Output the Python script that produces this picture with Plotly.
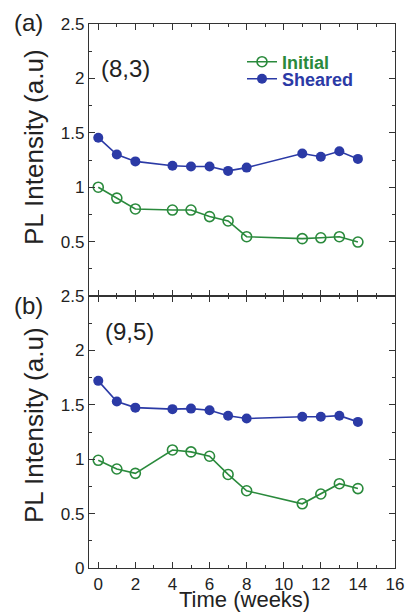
import plotly.graph_objects as go
from plotly.subplots import make_subplots

weeks = [0, 1, 2, 4, 5, 6, 7, 8, 11, 12, 13, 14]

a_initial = [1.00, 0.90, 0.80, 0.79, 0.79, 0.73, 0.69, 0.545, 0.527, 0.535, 0.545, 0.496]
a_sheared = [1.455, 1.30, 1.237, 1.197, 1.19, 1.19, 1.15, 1.18, 1.31, 1.28, 1.33, 1.26]

b_initial = [0.99, 0.91, 0.87, 1.085, 1.067, 1.027, 0.86, 0.71, 0.59, 0.68, 0.775, 0.73]
b_sheared = [1.72, 1.53, 1.474, 1.46, 1.465, 1.45, 1.40, 1.374, 1.39, 1.39, 1.40, 1.343]

x_ticks = [0, 2, 4, 6, 8, 10, 12, 14, 16]
y_ticks_top = [0.5, 1, 1.5, 2, 2.5]
y_ticks_bottom = [0, 0.5, 1, 1.5, 2, 2.5]
y_tick_text_top = ["0.5", "1", "1.5", "2", "2.5"]
y_tick_text_bottom = ["0", "0.5", "1", "1.5", "2", "2.5"]

GREEN = "#2a8a3c"
BLUE = "#2b3aa6"
FONT = "Liberation Sans, Arial, sans-serif"

W, H = 405, 614
ML, MR, MT, MB = 89, 10, 24, 46

fig = make_subplots(rows=2, cols=1, shared_xaxes=False, vertical_spacing=0.0)

def add_pair(row, init, shear, show):
    fig.add_trace(go.Scatter(
        x=weeks, y=init, mode="lines+markers",
        name="<b>Initial</b>",
        line=dict(color=GREEN, width=1.6),
        marker=dict(symbol="circle-open", size=10, color=GREEN, line=dict(width=1.6, color=GREEN)),
        showlegend=show, legend="legend"), row=row, col=1)
    fig.add_trace(go.Scatter(
        x=weeks, y=shear, mode="lines+markers",
        name="<b>Sheared</b>",
        line=dict(color=BLUE, width=1.6),
        marker=dict(symbol="circle", size=10, color=BLUE),
        showlegend=show, legend="legend2"), row=row, col=1)

add_pair(1, a_initial, a_sheared, True)
add_pair(2, b_initial, b_sheared, False)

axis_common = dict(
    showline=True, linecolor="#333", linewidth=1.3, mirror="allticks",
    ticks="inside", ticklen=6, tickwidth=1.2, tickcolor="#333",
    showgrid=False, zeroline=False,
    tickfont=dict(family=FONT, size=17, color="#222"),
)

fig.update_xaxes(range=[-0.5, 16], tickvals=x_ticks,
                 minor=dict(dtick=1, ticks="inside", ticklen=3, tickcolor="#333", tickwidth=1.2),
                 **axis_common)
fig.update_xaxes(showticklabels=False, row=1, col=1)
fig.update_xaxes(showticklabels=True, row=2, col=1)

fig.update_yaxes(range=[0, 2.5],
                 minor=dict(dtick=0.25, ticks="inside", ticklen=3, tickcolor="#333", tickwidth=1.2),
                 **axis_common)
fig.update_yaxes(tickvals=y_ticks_top, ticktext=y_tick_text_top, row=1, col=1)
fig.update_yaxes(tickvals=y_ticks_bottom, ticktext=y_tick_text_bottom, row=2, col=1)

def paper_x(px):
    return (px - ML) / (W - ML - MR)

def paper_y(py):
    return 1 - (py - MT) / (H - MT - MB)

fig.update_layout(
    width=W, height=H,
    margin=dict(l=ML, r=MR, t=MT, b=MB, autoexpand=False),
    paper_bgcolor="white", plot_bgcolor="white",
    font=dict(family=FONT, color="#222"),
    legend=dict(x=paper_x(242), y=paper_y(62), xanchor="left", yanchor="middle",
                bgcolor="rgba(0,0,0,0)", font=dict(family=FONT, size=18, color=GREEN),
                itemwidth=30),
    legend2=dict(x=paper_x(242), y=paper_y(79), xanchor="left", yanchor="middle",
                 bgcolor="rgba(0,0,0,0)", font=dict(family=FONT, size=18, color=BLUE),
                 itemwidth=30),
    showlegend=True,
)

def ann(text, px, py, size, xanchor="left", yanchor="middle", angle=0):
    fig.add_annotation(text=text, x=paper_x(px), y=paper_y(py), xref="paper", yref="paper",
                       xanchor=xanchor, yanchor=yanchor, showarrow=False, textangle=angle,
                       font=dict(family=FONT, size=size, color="#222"))

ann("(a)", 12, 22, 24)
ann("(b)", 12, 305, 24)
ann("(8,3)", 99, 68, 24)
ann("(9,5)", 103, 331, 24)
ann("PL Intensity (a.u)", 34, 147, 26, xanchor="center", angle=-90)
ann("PL Intensity (a.u)", 34, 425, 26, xanchor="center", angle=-90)
ann("Time (weeks)", 244, 614, 22, xanchor="center", yanchor="bottom")

fig.write_html("out.html", config={"displayModeBar": False},
               post_script="document.body.style.margin='0';")
